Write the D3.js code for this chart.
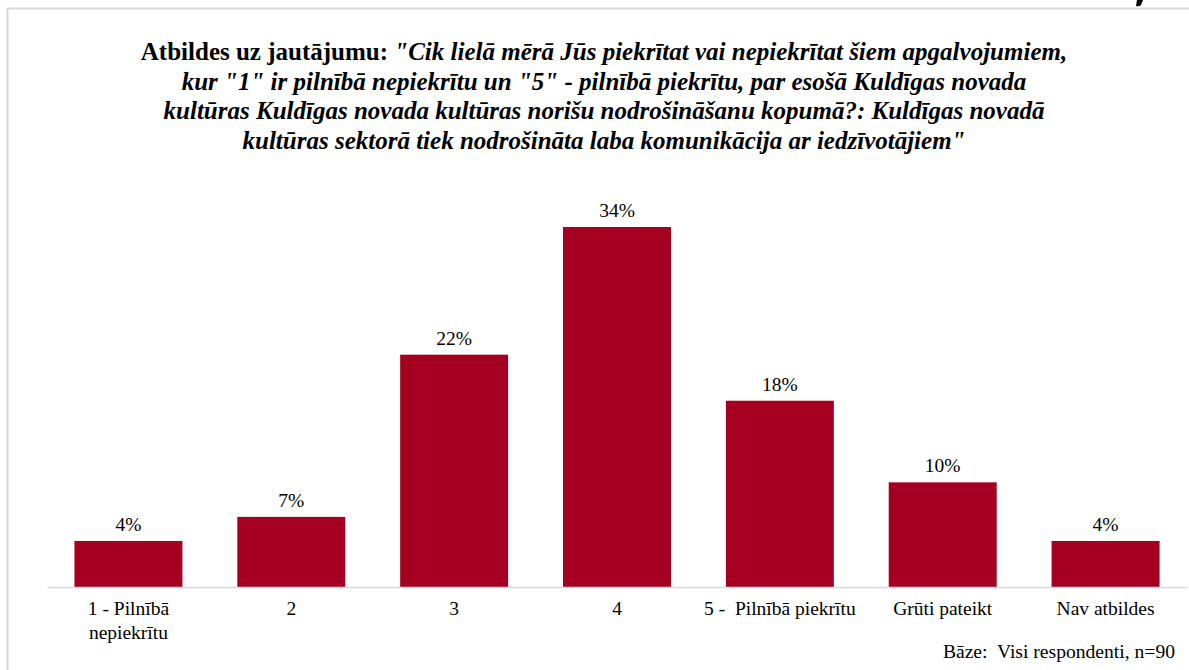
<!DOCTYPE html>
<html>
<head>
<meta charset="utf-8">
<script src="https://cdn.jsdelivr.net/npm/d3@7"></script>
<style>
  body { margin: 0; background: #fff; }
</style>
</head>
<body>
<div id="chart"></div>
<script>
const categories = ['1 - Pilnībā\nnepiekrītu', '2', '3', '4', '5 -  Pilnībā piekrītu', 'Grūti pateikt', 'Nav atbildes'];
const values = [4.4, 6.7, 22.2, 34.4, 17.8, 10.0, 4.4];
const valueLabels = ['4%', '7%', '22%', '34%', '18%', '10%', '4%'];
const titleLead = 'Atbildes uz jautājumu: ';
const titleLines = [
  '"Cik lielā mērā Jūs piekrītat vai nepiekrītat šiem apgalvojumiem,',
  'kur "1" ir pilnībā nepiekrītu un "5" - pilnībā piekrītu, par esošā Kuldīgas novada',
  'kultūras Kuldīgas novada kultūras norišu nodrošināšanu kopumā?: Kuldīgas novadā',
  'kultūras sektorā tiek nodrošināta laba komunikācija ar iedzīvotājiem"',
];
const baseNote = 'Bāze:  Visi respondenti, n=90';

const width = 1189;
const height = 670;
const baseline = 587;
const font = 'Liberation Serif';

const svg = d3.select('#chart')
  .append('svg')
  .attr('width', width)
  .attr('height', height)
  .attr('font-family', font);

// frame (cut off on the right and bottom)
svg.append('path')
  .attr('d', `M7.5,${height} V8.5 H${width}`)
  .attr('fill', 'none')
  .attr('stroke', '#d9d9d9')
  .attr('stroke-width', 2);

// stray fragment at the top edge
svg.append('path')
  .attr('d', 'M1137,0 L1143,0 L1141,5 Q1139,7 1136,6 Z')
  .attr('fill', '#000');

// title
const title = svg.append('text')
  .attr('text-anchor', 'middle')
  .attr('font-family', font)
  .attr('font-size', 25)
  .attr('font-weight', 'bold')
  .style('white-space', 'pre');

titleLines.forEach((line, i) => {
  if (i === 0) {
    title.append('tspan')
      .attr('x', 604)
      .attr('y', 60)
      .text(titleLead);
    title.append('tspan')
      .attr('font-style', 'italic')
      .text(line);
  } else {
    title.append('tspan')
      .attr('x', 604)
      .attr('y', 60 + i * 29.7)
      .attr('font-style', 'italic')
      .text(line);
  }
});

const xScale = d3.scaleBand()
  .domain(categories)
  .range([47, 1187])
  .paddingInner(0.337)
  .paddingOuter(0.337 / 2);

const yScale = d3.scaleLinear()
  .domain([0, 40])
  .range([baseline, baseline - 418.6]);

svg.selectAll('rect.bar')
  .data(values)
  .enter()
  .append('rect')
  .attr('class', 'bar')
  .attr('x', (d, i) => xScale(categories[i]))
  .attr('y', (d) => yScale(d))
  .attr('width', xScale.bandwidth())
  .attr('height', (d) => baseline - yScale(d))
  .attr('fill', '#a50021');

svg.selectAll('text.value')
  .data(values)
  .enter()
  .append('text')
  .attr('class', 'value')
  .attr('text-anchor', 'middle')
  .attr('font-family', font)
  .attr('font-size', 19.5)
  .attr('x', (d, i) => xScale(categories[i]) + xScale.bandwidth() / 2)
  .attr('y', (d) => yScale(d) - 10)
  .text((d, i) => valueLabels[i]);

// axis
const axis = svg.append('g')
  .attr('transform', `translate(0,${baseline})`)
  .call(d3.axisBottom(xScale).tickSize(0).tickFormat(''));
axis.select('.domain').attr('stroke', '#d9d9d9').attr('stroke-width', 1.3);

categories.forEach((c) => {
  const t = svg.append('text')
    .attr('text-anchor', 'middle')
    .attr('font-family', font)
    .attr('font-size', 19.5)
    .style('white-space', 'pre');
  c.split('\n').forEach((part, j) => {
    t.append('tspan')
      .attr('x', xScale(c) + xScale.bandwidth() / 2)
      .attr('y', 615 + j * 24)
      .text(part);
  });
});

svg.append('text')
  .attr('text-anchor', 'end')
  .attr('font-family', font)
  .attr('font-size', 19.6)
  .attr('x', 1175)
  .attr('y', 658)
  .style('white-space', 'pre')
  .text(baseNote);
</script>
</body>
</html>
